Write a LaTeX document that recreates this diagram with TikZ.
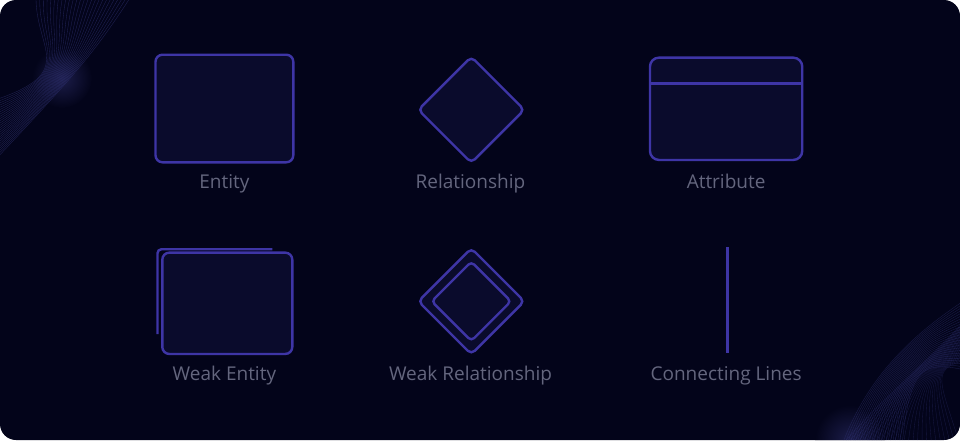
\documentclass[tikz,border=0pt]{standalone}
\usepackage{fontspec}
\setmainfont{Open Sans}
\definecolor{bgc}{HTML}{03041A}
\definecolor{shapefill}{HTML}{0A0B2C}
\definecolor{shapeline}{HTML}{3E35A6}
\definecolor{labelc}{HTML}{64667E}
\definecolor{wavec}{HTML}{33357A}
\definecolor{glowc}{HTML}{1C1D4A}
\begin{document}
\begin{tikzpicture}[x=1pt,y=-1pt,
  shapebox/.style={draw=shapeline,fill=shapefill,line width=2.4pt,inner sep=0pt,outer sep=0pt},
  lbl/.style={text=labelc,font=\fontsize{19}{22}\selectfont,inner sep=0pt,anchor=base}]
\useasboundingbox (0,0) rectangle (960,440);
\fill[white] (0,0) rectangle (960,440);
\fill[bgc,rounded corners=16pt] (0,0) rectangle (960,440);
\begin{scope}
\clip[rounded corners=16pt] (0,0) rectangle (960,440);
% glows
\shade[inner color=glowc,outer color=bgc] (62,78) circle (30);
\shade[inner color=glowc,outer color=bgc] (850,440) circle (35);
% top-left ribbon
\foreach \t in {0,0.04,...,1.01}{
  \draw[wavec,line width=0.35pt,opacity=0.6]
    ({36+94*\t},-2) .. controls ({36+60*\t},50) and (78,72) .. (-5,{100+60*\t});
}
% bottom-right mesh
\foreach \t in {0,0.04,...,1.01}{
  \draw[wavec,line width=0.35pt,opacity=0.5]
    ({842+60*\t},445) .. controls ({870+40*\t},370) and (920,{330+30*\t}) .. (965,{300+70*\t});
  \draw[wavec,line width=0.35pt,opacity=0.4]
    ({842+118*\t},445) .. controls ({880+60*\t},{400-20*\t}) and ({930},{360+10*\t}) .. (965,{320+40*\t});
}
\end{scope}
% Entity
\node[shapebox,rounded corners=7pt,minimum width=137.8pt,minimum height=107.6pt] (entity) at (224.4,108.5) {};
\node[lbl] (entitylbl) at (224.4,188) {Entity};
% Relationship
\node[shapebox,rounded corners=5pt,minimum width=75pt,minimum height=75pt,rotate=45] (rel) at (471.3,109.8) {};
\node[lbl] (rellbl) at (470.5,188) {Relationship};
% Attribute
\node[shapebox,rounded corners=9pt,minimum width=152.3pt,minimum height=102.3pt] (attr) at (726.1,108.8) {};
\draw[shapeline,line width=2.4pt] (attr.west |- 0,83.3) -- (attr.east |- 0,83.3);
\node[lbl] (attrlbl) at (726.1,188) {Attribute};
% Weak entity
\coordinate (wbA) at (157.5,334);
\coordinate (wbB) at (272.3,249.2);
\draw[shapeline,line width=2.4pt,rounded corners=4pt] (wbA) |- (wbB);
\node[shapebox,rounded corners=7pt,minimum width=130pt,minimum height=101.3pt] (weak) at (227.3,303.3) {};
\node[lbl] (weaklbl) at (224.4,380) {Weak Entity};
% Weak relationship
\node[shapebox,rounded corners=5pt,minimum width=75pt,minimum height=75pt,rotate=45] (wrelout) at (471.3,301.3) {};
\node[shapebox,rounded corners=4pt,minimum width=56pt,minimum height=56pt,rotate=45] (wrelin) at (471.3,301.3) {};
\node[lbl] (wrellbl) at (470.5,380) {Weak Relationship};
% Connecting line
\coordinate (clA) at (727.3,247.3);
\coordinate (clB) at (727.3,353.3);
\draw[shapeline,line width=2.4pt] (clA) -- (clB);
\node[lbl] (cllbl) at (726.1,380) {Connecting Lines};
\end{tikzpicture}
\end{document}
